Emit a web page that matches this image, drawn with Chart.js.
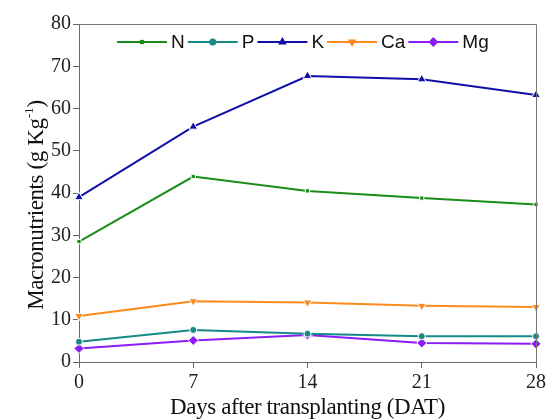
<!DOCTYPE html>
<html>
<head>
<meta charset="utf-8">
<script src="https://cdn.jsdelivr.net/npm/chart.js@4"></script>
<style>
  html, body { margin: 0; padding: 0; background: #fff; }
  #wrap { width: 549px; height: 419px; }
</style>
</head>
<body>
<div id="wrap"><canvas id="chart"></canvas></div>
<script>
// Macronutrient content over days after transplanting
const days = [0, 7, 14, 21, 28];
const nValues = [28.5, 43.9, 40.5, 38.8, 37.3];
const pValues = [4.8, 7.6, 6.7, 6.1, 6.1];
const kValues = [39.0, 55.7, 67.7, 66.9, 63.2];
const caValues = [10.9, 14.4, 14.1, 13.3, 13.0];
const mgValues = [3.2, 5.1, 6.4, 4.5, 4.3];
const yTicks = [0, 10, 20, 30, 40, 50, 60, 70, 80];

const xTitle = 'Days after transplanting (DAT)';
const yTitle = ['Macronutrients (g Kg', '-1', ')'];

const serif = "'Liberation Serif', 'Times New Roman', serif";
const sans = "'Liberation Sans', Arial, sans-serif";

// Build a line dataset from one series
function makeSeries(label, values, color, style, radius, rotation) {
    return {
        label: label,
        data: values.map((v, i) => ({ x: days[i], y: v })),
        borderColor: color,
        backgroundColor: color,
        pointBackgroundColor: color,
        pointBorderColor: '#ffffff',
        pointBorderWidth: 1,
        pointStyle: style,
        pointRadius: radius,
        pointRotation: rotation || 0,
        borderWidth: 2,
        tension: 0,
        clip: false
    };
}

// Box around the plot area
const framePlugin = {
    id: 'frame',
    afterDatasetsDraw(chart) {
        const { ctx, chartArea } = chart;
        ctx.save();
        ctx.strokeStyle = '#777777';
        ctx.lineWidth = 1;
        ctx.beginPath();
        ctx.moveTo(chartArea.left, chartArea.top + 0.5);
        ctx.lineTo(chartArea.right + 0.5, chartArea.top + 0.5);
        ctx.lineTo(chartArea.right + 0.5, chartArea.bottom);
        ctx.stroke();
        ctx.restore();
    }
};

// Axis titles drawn by hand (superscript and tighter spacing)
const titlesPlugin = {
    id: 'axisTitles',
    afterDraw(chart) {
        const { ctx, chartArea } = chart;
        ctx.save();
        ctx.fillStyle = '#111111';
        ctx.letterSpacing = '-0.4px';
        ctx.textBaseline = 'alphabetic';

        // x title
        ctx.font = '23px ' + serif;
        ctx.textAlign = 'center';
        ctx.fillText(xTitle, (chartArea.left + chartArea.right) / 2, 414);

        // y title, rotated, with superscript
        ctx.textAlign = 'left';
        const big = '23px ' + serif;
        const small = '13px ' + serif;
        ctx.font = big;
        const w1 = ctx.measureText(yTitle[0]).width;
        const w3 = ctx.measureText(yTitle[2]).width;
        ctx.font = small;
        const w2 = ctx.measureText(yTitle[1]).width;
        const total = w1 + w2 + w3 + 1;
        ctx.translate(43, 205 + total / 2);
        ctx.rotate(-Math.PI / 2);
        ctx.font = big;
        ctx.fillText(yTitle[0], 0, 0);
        ctx.font = small;
        ctx.fillText(yTitle[1], w1 + 0.5, -10);
        ctx.font = big;
        ctx.fillText(yTitle[2], w1 + w2 + 1, 0);
        ctx.restore();
    }
};

// Legend drawn inside the plot: line + marker + label
const legendPlugin = {
    id: 'lineLegend',
    afterDraw(chart) {
        const { ctx } = chart;
        let x = 117;
        const y = 42;
        ctx.save();
        ctx.font = '19px ' + sans;
        ctx.textBaseline = 'middle';
        chart.data.datasets.forEach((ds) => {
            ctx.strokeStyle = ds.borderColor;
            ctx.lineWidth = 2;
            ctx.beginPath();
            ctx.moveTo(x, y);
            ctx.lineTo(x + 50, y);
            ctx.stroke();
            ctx.fillStyle = ds.borderColor;
            Chart.helpers.drawPoint(ctx, {
                pointStyle: ds.pointStyle,
                radius: ds.pointRadius,
                rotation: ds.pointRotation,
                borderWidth: 0
            }, x + 25, y);
            ctx.fillStyle = '#111111';
            ctx.fillText(ds.label, x + 54, y + 1);
            x += 54 + ctx.measureText(ds.label).width + 3;
        });
        ctx.restore();
    }
};

new Chart(document.getElementById('chart'), {
    type: 'line',
    data: {
        datasets: [
            makeSeries('N', nValues, '#1a8c1a', 'rect', 3),
            makeSeries('P', pValues, '#168a86', 'circle', 3.5),
            makeSeries('K', kValues, '#1010a8', 'triangle', 5),
            makeSeries('Ca', caValues, '#ff8a1c', 'triangle', 5, 180),
            makeSeries('Mg', mgValues, '#8a1cf5', 'rectRot', 5)
        ]
    },
    options: {
        responsive: true,
        maintainAspectRatio: false,
        animation: false,
        layout: { padding: { top: 24, right: 12, left: 0, bottom: 0 } },
        plugins: {
            legend: { display: false },
            tooltip: { enabled: false }
        },
        scales: {
            x: {
                type: 'linear',
                min: 0,
                max: 28,
                afterFit: (scale) => { scale.height = 57; },
                afterBuildTicks: (scale) => { scale.ticks = days.map(d => ({ value: d })); },
                ticks: {
                    color: '#222222',
                    font: { family: serif, size: 20 },
                    padding: 3,
                    maxRotation: 0
                },
                grid: {
                    drawOnChartArea: false,
                    drawTicks: true,
                    tickLength: 6,
                    color: '#666666'
                },
                border: { color: '#666666', width: 1 }
            },
            y: {
                min: 0,
                max: 80,
                afterFit: (scale) => { scale.width = 79; },
                afterBuildTicks: (scale) => { scale.ticks = yTicks.map(v => ({ value: v })); },
                ticks: {
                    color: '#222222',
                    font: { family: serif, size: 20 },
                    padding: 2
                },
                grid: {
                    drawOnChartArea: false,
                    drawTicks: true,
                    tickLength: 6,
                    color: '#666666'
                },
                border: { color: '#666666', width: 1 }
            }
        }
    },
    plugins: [framePlugin, titlesPlugin, legendPlugin]
});
</script>
</body>
</html>
